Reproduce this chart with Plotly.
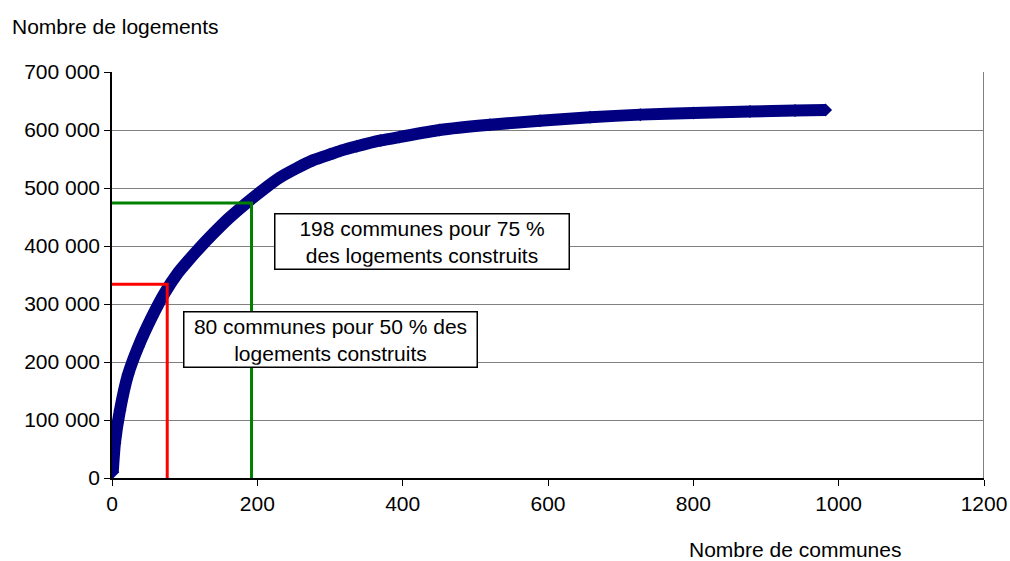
import plotly.graph_objs as go

# Courbe cumulée : nombre de communes -> nombre de logements construits
communes = [1, 4, 11, 22, 36, 55, 73, 91, 103, 120, 139, 160, 185, 208, 231,
            254, 277, 300, 314, 337, 370, 396, 451, 520, 589, 658, 727, 800,
            878, 940, 982]
logements = [10000, 60000, 117000, 178000, 226000, 278000, 320000, 354000,
             372000, 396000, 421000, 447000, 474000, 497000, 518000, 534000,
             548000, 558000, 564000, 572000, 582000, 588000, 600000, 609000,
             616000, 622000, 626500, 629500, 632000, 633500, 634500]

# Repères 50 % et 75 %
seuil_50 = (76, 334000)
seuil_75 = (192, 474000)
texte_50 = "80 communes pour 50 % des<br>logements construits"
texte_75 = "198 communes pour 75 %<br>des logements construits"
pos_texte_50 = (300, 239500)
pos_texte_75 = (427, 408000)

x_ticks = [0, 200, 400, 600, 800, 1000, 1200]
y_ticks = [0, 100000, 200000, 300000, 400000, 500000, 600000, 700000]

FONT = "Liberation Sans, Arial, sans-serif"
navy = "#000080"

# plot area in pixels (as in the original export)
L, R, T, B = 112, 984, 72, 478

fig = go.Figure()
fig.add_trace(
    go.Scatter(
        x=communes,
        y=logements,
        mode="lines+markers",
        line=dict(color=navy, width=12, shape="spline", smoothing=0.5),
        marker=dict(symbol="diamond", size=10, color=navy),
    )
)

# red / green guide lines
for (sx, sy), col in [(seuil_50, "#FF0000"), (seuil_75, "#008000")]:
    fig.add_trace(
        go.Scatter(
            x=[0, sx, sx],
            y=[sy, sy, 0],
            mode="lines",
            line=dict(color=col, width=3),
        )
    )

# right border of plot area
fig.add_shape(type="line", x0=1200, x1=1200, y0=0, y1=700000,
              xref="x", yref="y", line=dict(color="#808080", width=2))

for txt, (ax, ay), w in [(texte_75, pos_texte_75, 289), (texte_50, pos_texte_50, 288)]:
    fig.add_annotation(
        x=ax, y=ay, xref="x", yref="y", text=txt, showarrow=False,
        font=dict(family=FONT, size=21, color="black"),
        bgcolor="white", bordercolor="black", borderwidth=1.5, borderpad=2,
        width=w, align="center",
    )

# axis titles
fig.add_annotation(x=(10 - L) / (R - L), y=(B - 26) / (B - T), xref="paper", yref="paper",
                   text="Nombre de logements", showarrow=False,
                   xanchor="left", yanchor="middle",
                   font=dict(family=FONT, size=21, color="black"))
fig.add_annotation(x=(795 - L) / (R - L), y=(B - 549) / (B - T), xref="paper", yref="paper",
                   text="Nombre de communes", showarrow=False,
                   xanchor="center", yanchor="middle",
                   font=dict(family=FONT, size=21, color="black"))

fig.update_layout(
    width=1010,
    height=561,
    autosize=False,
    margin=dict(l=L, r=1010 - R, t=T, b=561 - B, pad=0),
    plot_bgcolor="white",
    paper_bgcolor="white",
    showlegend=False,
    separators=", ",
    font=dict(family=FONT, size=21, color="black"),
)

fig.update_xaxes(
    range=[0, 1200],
    tickvals=x_ticks,
    tickformat="d",
    showgrid=False,
    zeroline=False,
    showline=True,
    linecolor="black",
    linewidth=1.5,
    ticks="outside",
    ticklen=6,
    tickcolor="black",
    automargin=False,
)
fig.update_yaxes(
    range=[0, 700000],
    tickvals=y_ticks,
    tickformat=",d",
    showgrid=True,
    gridcolor="#808080",
    gridwidth=1,
    zeroline=False,
    showline=True,
    linecolor="black",
    linewidth=1.5,
    ticks="outside",
    ticklen=6,
    tickcolor="black",
    automargin=False,
)

# no default page margin so the figure sits at the window's corner
fig.write_html("out.html", config={"displayModeBar": False},
               post_script="document.body.style.margin='0';document.body.style.overflow='hidden';")
